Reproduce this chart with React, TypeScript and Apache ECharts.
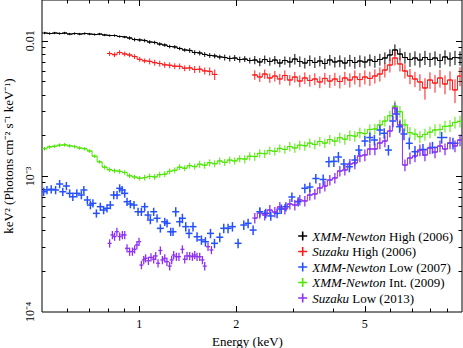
import React, { useEffect, useRef } from "react";
import * as echarts from "echarts";

// ---------- data ----------
// energy bins (keV) of the densely binned spectra
const energyGrid = [
  0.509, 0.528, 0.547, 0.567, 0.587, 0.609, 0.631, 0.654, 0.678, 0.702,
  0.728, 0.754, 0.782, 0.81, 0.839, 0.87, 0.902, 0.934, 0.968, 1.004,
  1.04, 1.078, 1.117, 1.158, 1.2, 1.243, 1.289, 1.335, 1.384, 1.434,
  1.486, 1.54, 1.596, 1.654, 1.714, 1.777, 1.841, 1.908, 1.977, 2.049,
  2.124, 2.201, 2.281, 2.364, 2.449, 2.539, 2.632, 2.727, 2.827, 2.929,
  3.035, 3.145, 3.26, 3.378, 3.501, 3.628, 3.76, 3.896, 4.038, 4.184,
  4.337, 4.494, 4.657, 4.827, 5.002, 5.184, 5.372, 5.567, 5.769, 5.979,
  6.197, 6.424, 6.657, 6.9, 7.15, 7.408, 7.678, 7.958, 8.249, 8.547,
  8.858, 9.18, 9.512, 9.858,
];

// XMM-Newton High (2006)
const xmmHighValue = [
  0.01142, 0.01132, 0.01142, 0.01132, 0.01142, 0.01122, 0.01132, 0.01122, 0.01132, 0.01122,
  0.01113, 0.01122, 0.01104, 0.01094, 0.01094, 0.01076, 0.01067, 0.01049, 0.01022, 0.01014,
  0.01005, 0.0098, 0.00972, 0.00947, 0.00931, 0.00908, 0.00901, 0.00878, 0.00856, 0.00849,
  0.0082, 0.00813, 0.00793, 0.0078, 0.00773, 0.0076, 0.00753, 0.00741, 0.00747, 0.00728,
  0.00734, 0.00716, 0.00722, 0.00698, 0.00728, 0.00704, 0.00722, 0.00686, 0.00716, 0.00698,
  0.00734, 0.00704, 0.00686, 0.00716, 0.00692, 0.0071, 0.0068, 0.00722, 0.00698, 0.0071,
  0.00686, 0.00716, 0.00692, 0.0071, 0.00698, 0.00722, 0.00704, 0.00728, 0.00747, 0.00786,
  0.00856, 0.00799, 0.00753, 0.00728, 0.00747, 0.00722, 0.00753, 0.00728, 0.00747, 0.00716,
  0.0076, 0.00734, 0.00753, 0.00747,
];
const xmmHighErrPct = [
  2, 2, 2, 2, 2, 2, 2, 2, 2, 2,
  2, 2, 2, 2, 2, 2, 2, 3, 3, 3,
  3, 3, 3, 3, 3, 3, 3, 3, 3, 4,
  4, 4, 4, 4, 4, 4, 5, 5, 5, 5,
  5, 5, 7, 7, 7, 7, 7, 7, 7, 9,
  9, 9, 9, 9, 9, 9, 9, 9, 9, 10,
  10, 10, 10, 10, 10, 10, 10, 10, 10, 10,
  10, 10, 10, 12, 12, 12, 12, 12, 12, 12,
  12, 12, 12, 12,
];

// Suzaku High (2006)  (null: no data)
const suzakuHighValue = [
  null, null, null, null, null, null, null, null, null, null,
  null, null, null, 0.00806, 0.0079, 0.0082, 0.008, 0.00786, 0.00765, 0.0073,
  0.00712, 0.00705, 0.0069, 0.0068, 0.00665, 0.0066, 0.0065, 0.00648, 0.00628, 0.00632,
  0.00615, 0.00618, 0.006, 0.00595, 0.00565, null, null, null, null, null,
  null, null, 0.0056, 0.00541, 0.00569, 0.00532, 0.0055, 0.00523, 0.00555, 0.00514,
  0.00541, 0.00505, 0.00532, 0.0051, 0.00523, 0.00497, 0.00528, 0.00505, 0.00523, 0.00501,
  0.00532, 0.00514, 0.00541, 0.00518, 0.00541, 0.00528, 0.0055, 0.00569, 0.00609, 0.00663,
  0.00747, 0.00675, 0.00599, 0.0055, 0.00523, 0.00497, 0.00449, 0.00514, 0.00488, 0.00532,
  0.0048, 0.00514, 0.00434, 0.0055,
];
const suzakuHighErrPct = [
  0, 0, 0, 0, 0, 0, 0, 0, 0, 0,
  0, 0, 0, 4, 4, 4, 4, 4, 4, 4,
  4, 5, 5, 5, 5, 5, 5, 5, 5, 5,
  6, 6, 6, 7, 9, 0, 0, 0, 0, 0,
  0, 0, 8, 8, 8, 8, 9, 9, 9, 9,
  9, 10, 10, 10, 10, 10, 10, 11, 11, 11,
  11, 12, 12, 12, 12, 12, 12, 12, 12, 12,
  12, 12, 12, 13, 13, 14, 18, 14, 15, 15,
  16, 16, 20, 16,
];

// XMM-Newton Int. (2009)
const xmmIntValue = [
  0.0016, 0.00165, 0.00167, 0.0017, 0.00171, 0.00168, 0.00166, 0.00162, 0.0016, 0.00154,
  0.00141, 0.00128, 0.00117, 0.00112, 0.0011, 0.00109, 0.00107, 0.00101, 0.00099, 0.00097,
  0.00098, 0.001, 0.00099, 0.00103, 0.00104, 0.00109, 0.00111, 0.00117, 0.00115, 0.0012,
  0.00118, 0.00123, 0.00121, 0.00126, 0.00124, 0.0013, 0.00127, 0.00132, 0.0013, 0.00135,
  0.00134, 0.00141, 0.0014, 0.00148, 0.00147, 0.00155, 0.00153, 0.00161, 0.00158, 0.00166,
  0.00162, 0.0017, 0.00168, 0.00176, 0.00172, 0.00181, 0.00176, 0.00187, 0.00182, 0.00193,
  0.00188, 0.002, 0.00198, 0.0021, 0.00207, 0.00222, 0.00224, 0.0024, 0.00256, 0.0028,
  0.0033, 0.003, 0.0024, 0.0021, 0.00205, 0.00196, 0.00204, 0.00212, 0.0022, 0.00222,
  0.00234, 0.00236, 0.0025, 0.00255,
];
const xmmIntErrPct = [
  3, 3, 3, 3, 3, 3, 3, 3, 3, 3,
  3, 3, 4, 4, 4, 4, 4, 4, 4, 4,
  5, 5, 5, 5, 5, 5, 5, 5, 5, 5,
  5, 6, 6, 6, 6, 6, 6, 6, 6, 6,
  7, 7, 7, 7, 7, 7, 7, 7, 7, 8,
  8, 8, 8, 8, 8, 8, 8, 8, 8, 9,
  9, 9, 9, 9, 9, 9, 9, 9, 9, 9,
  10, 10, 10, 10, 10, 10, 10, 10, 10, 10,
  10, 10, 10, 10,
];

// XMM-Newton Low (2007)
const xmmLowEnergy = [
  0.506, 0.518, 0.534, 0.551, 0.567, 0.58, 0.595, 0.609, 0.623, 0.641,
  0.662, 0.674, 0.691, 0.706, 0.719, 0.737, 0.758, 0.776, 0.795, 0.814,
  0.834, 0.854, 0.87, 0.885, 0.902, 0.917, 0.939, 0.964, 0.992, 1.016,
  1.04, 1.065, 1.083, 1.109, 1.136, 1.163, 1.2, 1.22, 1.252, 1.273,
  1.298, 1.335, 1.361, 1.394, 1.427, 1.468, 1.511, 1.559, 1.604, 1.663,
  1.711, 1.777, 1.828, 1.885, 1.945, 2.025, 2.109, 2.175, 2.254, 2.364,
  2.467, 2.557, 2.675, 2.756, 2.847, 2.972, 3.108, 3.26, 3.378, 3.526,
  3.715, 3.87, 4.01, 4.141, 4.307, 4.478, 4.657, 4.792, 5.003, 5.184,
  5.354, 5.568, 5.742, 5.917, 6.109, 6.256, 6.41, 6.61, 6.865, 7.15,
  7.57, 8.101, 8.65, 9.377,
];
const xmmLowValue = [
  0.000771, 0.000794, 0.000803, 0.000794, 0.000879, 0.000771, 0.00085, 0.00075, 0.000708, 0.00075,
  0.000729, 0.000794, 0.00067, 0.000615, 0.000633, 0.000534, 0.000598, 0.000565, 0.000582, 0.000615,
  0.000729, 0.000729, 0.000817, 0.000794, 0.00075, 0.000651, 0.000626, 0.000615, 0.000549, 0.000549,
  0.000598, 0.000519, 0.000477, 0.000549, 0.000491, 0.000414, 0.000463, 0.000451, 0.000391, 0.000391,
  0.000549, 0.000463, 0.000491, 0.000426, 0.00038, 0.000426, 0.000359, 0.00034, 0.00033, 0.00038,
  0.000321, 0.000356, 0.000414, 0.000414, 0.000426, 0.000321, 0.000438, 0.000451, 0.000402, 0.000549,
  0.000534, 0.000511, 0.000534, 0.000575, 0.000598, 0.000705, 0.000651, 0.000817, 0.000835, 0.000965,
  0.000949, 0.001283, 0.001292, 0.00139, 0.001234, 0.001179, 0.001321, 0.001565, 0.001824, 0.001936,
  0.001856, 0.002199, 0.002079, 0.001565, 0.002562, 0.002885, 0.002326, 0.002055, 0.001755, 0.001521,
  0.001579, 0.001634, 0.001936, 0.001755,
];
const xmmLowErrPct = [
  7, 7, 7, 7, 7, 7, 7, 7, 7, 7,
  7, 7, 7, 7, 7, 7, 7, 7, 7, 7,
  7, 7, 7, 7, 7, 7, 7, 7, 7, 7,
  7, 7, 7, 7, 7, 7, 7, 7, 7, 7,
  8, 8, 8, 8, 8, 8, 8, 8, 8, 8,
  8, 8, 8, 8, 8, 8, 8, 8, 8, 8,
  8, 8, 8, 8, 8, 8, 8, 8, 8, 8,
  9, 9, 9, 9, 9, 9, 9, 9, 9, 9,
  9, 9, 9, 9, 10, 10, 10, 10, 10, 10,
  10, 10, 10, 10,
];

// Suzaku Low (2013)
const suzakuLowEnergy = [
  0.81, 0.826, 0.839, 0.853, 0.87, 0.887, 0.902, 0.917, 0.934, 0.953,
  0.968, 0.984, 0.999, 1.016, 1.033, 1.047, 1.068, 1.088, 1.109, 1.125,
  1.144, 1.163, 1.18, 1.2, 1.219, 1.243, 1.261, 1.279, 1.304, 1.328,
  1.361, 1.384, 1.407, 1.434, 1.462, 1.486, 1.511, 1.54, 1.57, 1.596,
  1.634, 1.674,
  2.281, 2.364, 2.449, 2.539, 2.632, 2.727, 2.827, 2.929, 3.035, 3.145,
  3.26, 3.378, 3.501, 3.628, 3.76, 3.896, 4.038, 4.184, 4.337, 4.494,
  4.657, 4.827, 5.002, 5.184, 5.372, 5.567, 5.769, 5.979, 6.197, 6.424,
  6.657, 6.9, 7.15, 7.408, 7.678, 7.958, 8.249, 8.547, 8.858, 9.18,
  9.512, 9.858,
];
const suzakuLowValue = [
  0.000321, 0.00037, 0.00036, 0.000391, 0.00036, 0.00037, 0.00037, 0.000295, 0.000279, 0.000279,
  0.00029, 0.000312, 0.00033, 0.000222, 0.000242, 0.000249, 0.000239, 0.000253, 0.000245, 0.000259,
  0.000229, 0.000284, 0.000242, 0.000249, 0.000235, 0.000218, 0.000242, 0.000263, 0.000256, 0.000256,
  0.00029, 0.000245, 0.000259, 0.000259, 0.000256, 0.000263, 0.000256, 0.000256, 0.000242, 0.000218,
  0.000303, 0.000287,
  0.000493, 0.000537, 0.000519, 0.000565, 0.000546, 0.000595, 0.000575, 0.000626, 0.000615, 0.00067,
  0.000659, 0.000729, 0.000742, 0.000821, 0.00085, 0.000941, 0.000973, 0.001096, 0.001115, 0.001234,
  0.001256, 0.001414, 0.001438, 0.001593, 0.001593, 0.001764, 0.001824, 0.002162, 0.003195, 0.002394,
  0.001214, 0.001367, 0.001414, 0.001565, 0.001438, 0.00162, 0.001513, 0.001676, 0.001593, 0.001764,
  0.001676, 0.001856,
];
const suzakuLowErrPct = [
  7, 7, 7, 7, 7, 7, 7, 7, 7, 7,
  7, 7, 7, 7, 7, 7, 7, 7, 7, 7,
  7, 7, 7, 7, 7, 7, 7, 7, 7, 7,
  7, 7, 7, 7, 7, 7, 7, 7, 7, 7,
  7, 7,
  9, 9, 9, 9, 9, 9, 9, 9, 9, 9,
  9, 9, 9, 9, 9, 9, 9, 9, 9, 9,
  10, 10, 10, 10, 10, 10, 10, 10, 10, 10,
  10, 10, 10, 10, 10, 10, 10, 10, 10, 10,
  10, 10,
];

// axes
const xMin = 0.5;
const xMax = 10;
const yMin = 1e-4;
const yMax = 0.02;
const xMajorTicks = [1, 2, 5];
const xMinorTicks = [0.6, 0.7, 0.8, 0.9, 3, 4, 6, 7, 8, 9];
const xTickLabels = ["1", "2", "5"];
const yLabelValues = [1e-4, 1e-3, 1e-2];
const yTickLabels = ["10⁻⁴", "10⁻³", "0.01"];
const yMajorTicks = [1e-3, 1e-2];
const yMinorTicks = [
  2e-4, 3e-4, 4e-4, 5e-4, 6e-4, 7e-4, 8e-4, 9e-4,
  2e-3, 3e-3, 4e-3, 5e-3, 6e-3, 7e-3, 8e-3, 9e-3,
];

const NAMES = {
  xmmHigh: "XMM-Newton High (2006)",
  suzakuHigh: "Suzaku High (2006)",
  xmmLow: "XMM-Newton Low (2007)",
  xmmInt: "XMM-Newton Int. (2009)",
  suzakuLow: "Suzaku Low (2013)",
};
const LEGEND_RICH: Record<string, string> = {
  [NAMES.xmmHigh]: "{i|XMM-Newton} High (2006)",
  [NAMES.suzakuHigh]: "{i|Suzaku} High (2006)",
  [NAMES.xmmLow]: "{i|XMM-Newton} Low (2007)",
  [NAMES.xmmInt]: "{i|XMM-Newton} Int. (2009)",
  [NAMES.suzakuLow]: "{i|Suzaku} Low (2013)",
};

const SERIF = "'Liberation Serif', 'Times New Roman', Times, serif";

// ---------- helpers ----------
function buildItems(energy: number[], value: (number | null)[], errPct: number[]) {
  const items: number[][] = [];
  const n = energy.length;
  const valid = (i: number) => i >= 0 && i < n && value[i] != null;
  for (let i = 0; i < n; i++) {
    if (!valid(i)) continue;
    const e = energy[i];
    const dPrev = valid(i - 1) && e / energy[i - 1] < 1.15 ? Math.log(e / energy[i - 1]) : null;
    const dNext = valid(i + 1) && energy[i + 1] / e < 1.15 ? Math.log(energy[i + 1] / e) : null;
    const left = dPrev ?? dNext ?? 0.02;
    const right = dNext ?? dPrev ?? 0.02;
    const v = value[i] as number;
    const f = errPct[i] / 100;
    items.push([e, v, e * Math.exp(-left / 2), e * Math.exp(right / 2), v * (1 - f), v * (1 + f)]);
  }
  return items;
}

// continuous step trace through a densely binned spectrum (breaks at gaps)
function buildTrace(energy: number[], value: (number | null)[], fromEnergy: number) {
  const out: (number | null)[][] = [];
  for (let i = 0; i < energy.length; i++) {
    if (energy[i] < fromEnergy) continue;
    const v = value[i];
    out.push(v == null ? [energy[i], null] : [energy[i], v]);
  }
  return out;
}

function crossRenderer(color: string, lineWidth: number, minHalf: number) {
  return (_params: any, api: any) => {
    const e = api.value(0);
    const v = api.value(1);
    const c = api.coord([e, v]);
    const l = api.coord([api.value(2), v]);
    const h = api.coord([api.value(3), v]);
    const lo = api.coord([e, api.value(4)]);
    const hi = api.coord([e, api.value(5)]);
    const x1 = Math.min(l[0], c[0] - minHalf);
    const x2 = Math.max(h[0], c[0] + minHalf);
    const style = { stroke: color, lineWidth };
    return {
      type: "group",
      children: [
        { type: "line", shape: { x1, y1: c[1], x2, y2: c[1] }, style },
        { type: "line", shape: { x1: c[0], y1: hi[1], x2: c[0], y2: lo[1] }, style },
      ],
    };
  };
}

function nearestLabel(v: number, values: number[], labels: string[]) {
  let best = 0;
  for (let i = 1; i < values.length; i++) {
    if (Math.abs(Math.log10(values[i] / v)) < Math.abs(Math.log10(values[best] / v))) best = i;
  }
  return labels[best];
}

export default function App() {
  const ref = useRef<HTMLDivElement>(null);

  useEffect(() => {
    if (!ref.current) return;
    const chart = echarts.init(ref.current, undefined, { renderer: "svg" });

    const defs = [
      { name: NAMES.xmmHigh, color: "#000000", width: 1, minHalf: 0, energy: energyGrid, value: xmmHighValue, err: xmmHighErrPct, traceFrom: 0 },
      { name: NAMES.suzakuHigh, color: "#ff1a1a", width: 1, minHalf: 0, energy: energyGrid, value: suzakuHighValue, err: suzakuHighErrPct, traceFrom: 0 },
      { name: NAMES.xmmInt, color: "#4ce600", width: 1, minHalf: 0, energy: energyGrid, value: xmmIntValue, err: xmmIntErrPct, traceFrom: 0 },
      { name: NAMES.suzakuLow, color: "#9030f0", width: 1.3, minHalf: 2, energy: suzakuLowEnergy, value: suzakuLowValue, err: suzakuLowErrPct, traceFrom: 2 },
      { name: NAMES.xmmLow, color: "#2450ff", width: 1.5, minHalf: 3.5, energy: xmmLowEnergy, value: xmmLowValue, err: xmmLowErrPct, traceFrom: null as number | null },
    ];

    const series: any[] = [];
    defs.forEach((d) => {
      if (d.traceFrom != null) {
        series.push({
          type: "line",
          name: d.name,
          xAxisIndex: 0,
          yAxisIndex: 0,
          step: "middle",
          showSymbol: false,
          silent: true,
          connectNulls: false,
          clip: true,
          itemStyle: { color: d.color },
          lineStyle: { color: d.color, width: 1 },
          data: buildTrace(d.energy, d.value, d.traceFrom),
        });
      }
      series.push({
        type: "custom",
        name: d.name,
        xAxisIndex: 0,
        yAxisIndex: 0,
        clip: true,
        silent: true,
        itemStyle: { color: d.color },
        encode: { x: 0, y: 1 },
        renderItem: crossRenderer(d.color, d.width, d.minHalf),
        data: buildItems(d.energy, d.value, d.err),
      });
    });

    const tickLine = { color: "#000", width: 1 };
    const baseAxis = {
      type: "log",
      logBase: 10,
      axisLine: { show: false, onZero: false },
      splitLine: { show: false },
      minorTick: { show: false },
      minorSplitLine: { show: false },
    };
    const labelFont = { fontFamily: SERIF, fontSize: 12, color: "#000" };
    const nameFont = { fontFamily: SERIF, fontSize: 13, color: "#000" };

    const xAxis = [
      {
        ...baseAxis, position: "bottom", min: xMin, max: xMax,
        axisTick: { inside: true, length: 6, customValues: xMajorTicks, lineStyle: tickLine },
        axisLabel: {
          ...labelFont, margin: 6, customValues: xMajorTicks,
          formatter: (v: number) => nearestLabel(v, xMajorTicks, xTickLabels),
        },
        name: "Energy (keV)", nameLocation: "middle", nameGap: 12,
        nameTextStyle: { ...nameFont, padding: [0, 9, 0, 0] },
      },
      {
        ...baseAxis, position: "bottom", min: xMin, max: xMax,
        axisTick: { inside: true, length: 3.5, customValues: xMinorTicks, lineStyle: tickLine },
        axisLabel: { show: false },
      },
      {
        ...baseAxis, position: "top", min: xMin, max: xMax,
        axisTick: { inside: true, length: 6, customValues: xMajorTicks, lineStyle: tickLine },
        axisLabel: { show: false },
      },
      {
        ...baseAxis, position: "top", min: xMin, max: xMax,
        axisTick: { inside: true, length: 3.5, customValues: xMinorTicks, lineStyle: tickLine },
        axisLabel: { show: false },
      },
    ];
    const yAxis = [
      {
        ...baseAxis, position: "left", min: yMin, max: yMax,
        axisTick: { inside: true, length: 6, customValues: yMajorTicks, lineStyle: tickLine },
        axisLabel: {
          ...labelFont, margin: 6, rotate: 90, customValues: yLabelValues,
          formatter: (v: number) => nearestLabel(v, yLabelValues, yTickLabels),
        },
        name: "keV² (Photons cm⁻² s⁻¹ keV⁻¹)", nameLocation: "middle", nameGap: 27,
        nameTextStyle: nameFont,
      },
      {
        ...baseAxis, position: "left", min: yMin, max: yMax,
        axisTick: { inside: true, length: 3.5, customValues: yMinorTicks, lineStyle: tickLine },
        axisLabel: { show: false },
      },
      {
        ...baseAxis, position: "right", min: yMin, max: yMax,
        axisTick: { inside: true, length: 6, customValues: yMajorTicks, lineStyle: tickLine },
        axisLabel: { show: false },
      },
      {
        ...baseAxis, position: "right", min: yMin, max: yMax,
        axisTick: { inside: true, length: 3.5, customValues: yMinorTicks, lineStyle: tickLine },
        axisLabel: { show: false },
      },
    ];

    chart.setOption({
      animation: false,
      backgroundColor: "#ffffff",
      grid: {
        left: 42, right: 1, top: 0, bottom: 36,
        show: true, borderColor: "#000", borderWidth: 1, backgroundColor: "transparent",
        outerBoundsMode: "none",
      },
      xAxis,
      yAxis,
      legend: {
        data: [NAMES.xmmHigh, NAMES.suzakuHigh, NAMES.xmmLow, NAMES.xmmInt, NAMES.suzakuLow],
        orient: "vertical",
        right: 10,
        top: 228.5,
        padding: 0,
        itemWidth: 9,
        itemHeight: 9,
        itemGap: 0.5,
        selectedMode: false,
        icon: "path://M3.7,0h1.6v3.7h3.7v1.6h-3.7v3.7h-1.6v-3.7h-3.7v-1.6h3.7z",
        formatter: (name: string) => LEGEND_RICH[name] || name,
        textStyle: {
          fontFamily: SERIF, fontSize: 13, color: "#000", lineHeight: 15,
          rich: { i: { fontFamily: SERIF, fontSize: 13, color: "#000", fontStyle: "italic", lineHeight: 15 } },
        },
      },
      series,
    });

    return () => chart.dispose();
  }, []);

  return (
    <div
      ref={ref}
      style={{ position: "fixed", left: 0, top: 0, width: 463, height: 348, background: "#fff" }}
    />
  );
}
